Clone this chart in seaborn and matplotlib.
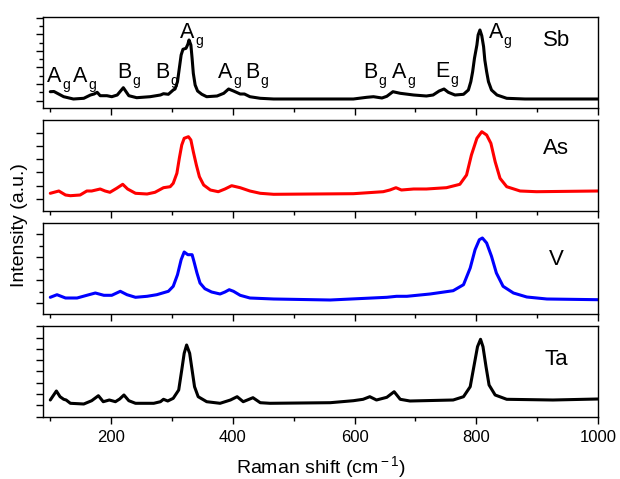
import pandas as pd
import matplotlib
matplotlib.use("Agg")
import matplotlib.pyplot as plt
import seaborn as sns
from matplotlib.ticker import MultipleLocator, NullFormatter

# ─── Data (intensity in arbitrary units) ─────────────────────────────────────
sb_x = [100, 106, 122, 138, 155, 166, 172, 177, 182, 193, 201, 210, 220, 229, 242, 264, 281, 286, 294, 302,
        305, 309, 312, 315, 318, 323, 326, 328, 331, 333, 335, 338, 342, 349, 357, 374, 385, 393, 401, 412,
        419, 428, 445, 467, 598, 620, 631, 645, 653, 663, 675, 697, 718, 729, 739, 747, 754, 765, 779, 787,
        791, 794, 797, 801, 803, 806, 809, 812, 814, 817, 820, 825, 834, 850, 880, 1000]
sb_y = [16.3, 16.5, 11.3, 9, 9.7, 13, 14, 15.7, 12.3, 12.3, 11.3, 13, 20.3, 12.3, 10.3, 11.3, 13, 14.3, 13.7, 18,
        19, 26.3, 39.7, 53, 58.7, 59.7, 63.7, 68, 63, 49.7, 34.7, 23, 17, 13.7, 11.3, 12, 14.7, 19, 17, 14,
        14, 11.3, 9.7, 9, 9, 10.7, 11.3, 10, 11.7, 16.3, 14.7, 13, 12, 13, 17, 19, 15.7, 13, 13.7, 18,
        26.3, 36.3, 49.7, 63, 73, 78, 72.3, 61.3, 48, 36.3, 26.3, 18, 13, 9.7, 9, 9]

as_x = [100, 114, 125, 133, 149, 160, 168, 182, 190, 198, 209, 219, 227, 240, 259, 272, 286, 297, 302, 308,
        312, 316, 320, 327, 331, 335, 340, 345, 352, 363, 376, 387, 398, 412, 428, 445, 467, 598, 647, 658,
        668, 677, 697, 718, 751, 773, 784, 792, 801, 809, 817, 824, 831, 839, 850, 872, 899, 1000]
as_y = [17.7, 20, 16, 15.3, 16, 20, 20, 22, 20, 18.7, 22.7, 26.7, 22, 17.7, 17, 18.7, 23.3, 24.3, 27.7, 37.7,
        52.7, 66, 72.7, 74.3, 71, 59.3, 46, 34.3, 26, 21, 19.3, 22, 25.3, 23.3, 20, 17.7, 16.7, 17.3, 19.3, 21,
        23.3, 21, 22, 22, 23.3, 26.7, 36, 56, 72.7, 79.3, 76, 67.7, 49.3, 32.7, 24.3, 20, 19.3, 20]

v_x = [100, 111, 125, 144, 160, 174, 188, 201, 215, 226, 240, 259, 275, 294, 302, 309, 315, 320, 326, 333,
       336, 341, 346, 354, 365, 379, 387, 394, 401, 412, 428, 467, 560, 653, 669, 686, 724, 762, 779, 790,
       798, 805, 810, 817, 825, 833, 844, 861, 883, 916, 1000]
v_y = [16.7, 19.3, 16, 16, 18.7, 21, 18.7, 18.7, 22.7, 19.3, 16.7, 17.7, 19.3, 22.7, 27.7, 39.3, 54.3, 62, 59.3, 59.3,
       52.7, 41, 31, 25.3, 22, 20, 22, 24.3, 22.7, 18.7, 16, 15, 14, 16.7, 17.7, 17.7, 20, 23.3, 29.3, 46,
       64.3, 74.3, 76, 71, 57.7, 41, 27.7, 21, 17, 15, 14.3]

ta_x = [100, 110, 116, 122, 126, 133, 155, 168, 179, 187, 197, 207, 214, 221, 229, 240, 270, 281, 286, 293,
        302, 311, 316, 320, 324, 329, 333, 337, 343, 357, 379, 396, 407, 417, 433, 445, 461, 560, 598, 614,
        625, 636, 653, 665, 675, 691, 762, 779, 790, 796, 802, 807, 811, 816, 821, 831, 850, 926, 1000]
ta_y = [17, 26, 20.3, 17.7, 17, 13.7, 13, 16.3, 21.3, 15.3, 17, 15.3, 18, 22, 16.3, 13.7, 13.7, 15.3, 17.7, 16,
        18.7, 27, 47, 63.7, 72, 63.7, 47, 30.3, 20.3, 15.3, 13.7, 17, 20.3, 15.3, 19.3, 14.3, 13.7, 14.3, 16.3, 17.7,
        20.3, 17, 19.7, 25.3, 17.7, 16, 17, 20.3, 30.3, 50.3, 70.3, 77.7, 70.3, 50.3, 32, 22, 17.7, 17, 18]

samples = ["Sb", "As", "V", "Ta"]
series_x = [sb_x, as_x, v_x, ta_x]
series_y = [sb_y, as_y, v_y, ta_y]
colors = ["#000000", "#ff0000", "#0000ff", "#000000"]

# phonon mode labels on the Sb spectrum
mode_letters = ["A", "A", "B", "B", "A", "A", "B", "B", "A", "E", "A"]
mode_pos = [(95, 26), (138, 26), (210, 30), (272, 30), (313, 70), (376, 30), (420, 30),
            (614, 30), (662, 30), (732, 31), (820, 70)]

# ─── Style ───────────────────────────────────────────────────────────────────
sns.set_theme(style="ticks")
plt.rcParams["font.family"] = ["Liberation Sans", "DejaVu Sans"]
plt.rcParams["mathtext.fontset"] = "custom"
plt.rcParams["mathtext.rm"] = "Liberation Sans"
plt.rcParams["mathtext.it"] = "Liberation Sans:italic"
plt.rcParams["mathtext.bf"] = "Liberation Sans:bold"
for key in ["text.color", "axes.labelcolor", "xtick.color", "ytick.color", "axes.edgecolor"]:
    plt.rcParams[key] = "black"

fig = plt.figure(figsize=(6.2, 4.79), dpi=100)
W, H = 620, 479
left, right = 43, 598
bottoms = [108, 211, 314, 417]
panel_h = 91
# y tick spacing (major, offset, minor) per panel
yticks = [(16.6, 7.3, 8.3), (13.3, 12.0, None), (23.0, 11.0, 11.5), (11.3, 11.7, None)]
name_y = [0.74, 0.69, 0.60, 0.63]

for i, name in enumerate(samples):
    ax = fig.add_axes([left / W, (H - bottoms[i]) / H, (right - left) / W, panel_h / H])
    df = pd.DataFrame({"shift": series_x[i], "intensity": series_y[i]})
    sns.lineplot(data=df, x="shift", y="intensity", ax=ax, color=colors[i],
                 linewidth=2.2, estimator=None, sort=False)
    ax.set_xlim(88, 1000)
    ax.set_ylim(0, panel_h)
    ax.set_xlabel("")
    ax.set_ylabel("")
    for sp in ax.spines.values():
        sp.set_linewidth(1.0)
        sp.set_color("black")
    ax.xaxis.set_major_locator(MultipleLocator(200))
    ax.xaxis.set_minor_locator(MultipleLocator(100))
    base, off, minor = yticks[i]
    ax.yaxis.set_major_locator(MultipleLocator(base, offset=off))
    if minor:
        ax.yaxis.set_minor_locator(MultipleLocator(minor, offset=off))
    ax.yaxis.set_major_formatter(NullFormatter())
    ax.tick_params(axis="both", which="major", direction="out", length=5, width=1.0,
                   color="black", labelsize=12, labelcolor="black", pad=4)
    ax.tick_params(axis="both", which="minor", direction="out", length=3, width=1.0, color="black")
    ax.tick_params(axis="y", which="both", left=True, right=False)
    ax.tick_params(axis="x", which="both", bottom=True, top=False)
    if i < 3:
        ax.xaxis.set_major_formatter(NullFormatter())
    ax.text(0.925, name_y[i], name, transform=ax.transAxes,
            ha="center", va="center", fontsize=16)
    if i == 0:
        for letter, (mx, my) in zip(mode_letters, mode_pos):
            ax.text(mx, my, letter, ha="left", va="baseline", fontsize=15.5)
            ax.annotate("g", xy=(mx, my), xytext=(11, -5), textcoords="offset points",
                        ha="left", va="baseline", fontsize=10)

fig.text(20 / W, 1 - 225 / H, "Intensity (a.u.)", rotation=90, ha="center", va="center", fontsize=14)
fig.text(321 / W, 1 - 467 / H, r"Raman shift (cm$^{\rm -1}$)", ha="center", va="center", fontsize=14)

fig.savefig("out.png", dpi=100)
